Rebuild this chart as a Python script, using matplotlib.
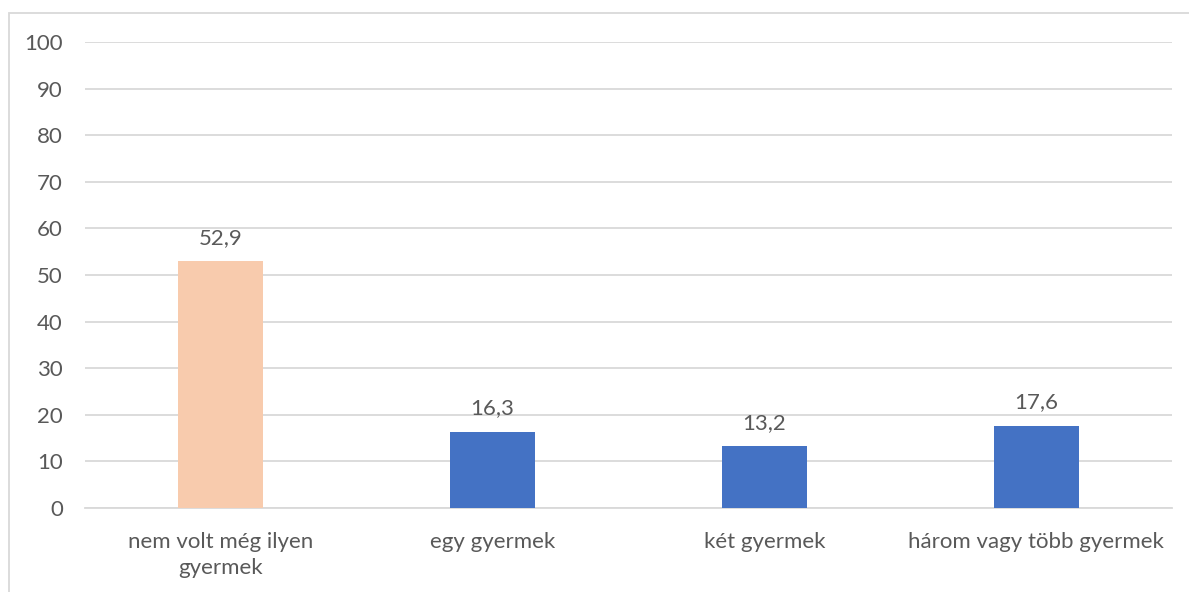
import matplotlib.pyplot as plt
from matplotlib.patches import Rectangle

# data
categories = ['nem volt még ilyen\ngyermek', 'egy gyermek', 'két gyermek', 'három vagy több gyermek']
values = [52.9, 16.3, 13.2, 17.6]
bar_colors = ['#F8CBAD', '#4472C4', '#4472C4', '#4472C4']
value_labels = ['52,9', '16,3', '13,2', '17,6']

plt.rcParams['font.family'] = ['Lato', 'DejaVu Sans']
text_color = '#595959'
grid_color = '#D9D9D9'
fsize = 16

fig = plt.figure(figsize=(11.89, 5.92), dpi=100)
ax = fig.add_axes([85 / 1189, 1 - 508 / 592, (1172 - 85) / 1189, (508 - 42) / 592])

x = range(len(categories))
bars = ax.bar(x, values, width=0.313, color=bar_colors, zorder=3)

for b, lab in zip(bars, value_labels):
    ax.annotate(lab, (b.get_x() + b.get_width() / 2, b.get_height()),
                xytext=(0, 10), textcoords='offset points',
                ha='center', va='bottom', fontsize=fsize, color=text_color)

ax.set_xlim(-0.5, len(categories) - 0.5)
ax.set_ylim(0, 100)
ax.set_yticks(range(0, 101, 10))
ax.set_xticks(list(x))
ax.set_xticklabels(categories, linespacing=1.4)
ax.tick_params(axis='both', length=0, labelsize=fsize, colors=text_color)
ax.tick_params(axis='x', pad=17)
ax.tick_params(axis='y', pad=16)

ax.grid(axis='y', color=grid_color, linewidth=1.3, zorder=0)
for s in ['top', 'right', 'left']:
    ax.spines[s].set_visible(False)
ax.spines['bottom'].set_color(grid_color)
ax.spines['bottom'].set_linewidth(1.3)

# chart border
fig.patches.append(Rectangle((8.5 / 1189, -0.05), 1.2, 1 - 12.5 / 592 + 0.05,
                             transform=fig.transFigure, fill=False,
                             edgecolor=grid_color, linewidth=1.3))

fig.savefig('out.png', dpi=100)
